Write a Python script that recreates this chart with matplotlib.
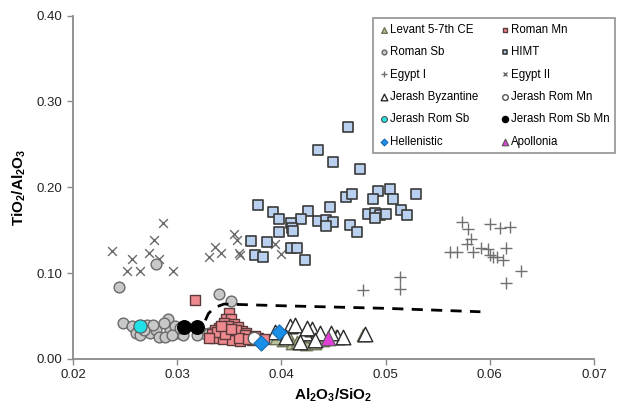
import matplotlib
matplotlib.use("Agg")
import matplotlib.pyplot as plt

plt.rcParams['font.family'] = ['Liberation Sans', 'DejaVu Sans']
plt.rcParams['mathtext.fontset'] = 'custom'
plt.rcParams['mathtext.rm'] = 'Liberation Sans'
plt.rcParams['mathtext.bf'] = 'Liberation Sans:bold'

# Al2O3/SiO2 (x) and TiO2/Al2O3 (y) per group
himt_x = [0.0464, 0.0435, 0.0450, 0.0475, 0.0462, 0.0468, 0.0493, 0.0504, 0.0529, 0.0488,
          0.0507, 0.0378, 0.0447, 0.0392, 0.0426, 0.0515, 0.0398, 0.0419, 0.0435, 0.0443,
          0.0450, 0.0443, 0.0483, 0.0490, 0.0495, 0.0500, 0.0490, 0.0521, 0.0409, 0.0410,
          0.0411, 0.0466, 0.0473, 0.0398, 0.0371, 0.0386, 0.0409, 0.0415, 0.0375, 0.0382,
          0.0423]
himt_y = [0.270, 0.243, 0.229, 0.221, 0.189, 0.192, 0.196, 0.198, 0.192, 0.186,
          0.186, 0.179, 0.177, 0.171, 0.172, 0.173, 0.163, 0.163, 0.161, 0.162,
          0.159, 0.155, 0.169, 0.170, 0.168, 0.169, 0.164, 0.168, 0.158, 0.153,
          0.149, 0.156, 0.148, 0.148, 0.137, 0.136, 0.129, 0.129, 0.121, 0.119,
          0.115]

egypt2_x = [0.0237, 0.0257, 0.0252, 0.0264, 0.0273, 0.0278, 0.0286, 0.0283, 0.0296, 0.0331,
            0.0336, 0.0342, 0.0355, 0.0357, 0.0359, 0.0360, 0.0394, 0.0400]
egypt2_y = [0.126, 0.117, 0.102, 0.102, 0.123, 0.139, 0.158, 0.116, 0.102, 0.119,
            0.131, 0.123, 0.146, 0.139, 0.123, 0.121, 0.134, 0.122]

egypt1_x = [0.0573, 0.0579, 0.0600, 0.0610, 0.0619, 0.0582, 0.0578, 0.0562, 0.0569, 0.0584,
            0.0592, 0.0598, 0.0616, 0.0600, 0.0603, 0.0607, 0.0613, 0.0630, 0.0616, 0.0514,
            0.0514, 0.0478]
egypt1_y = [0.159, 0.151, 0.157, 0.152, 0.154, 0.140, 0.134, 0.125, 0.125, 0.125,
            0.129, 0.128, 0.129, 0.121, 0.119, 0.119, 0.115, 0.103, 0.089, 0.095,
            0.081, 0.080]

roman_sb_x = [0.0244, 0.0280, 0.0340, 0.0352, 0.0248, 0.0257, 0.0260, 0.0271, 0.0274, 0.0280,
              0.0283, 0.0291, 0.0293, 0.0300, 0.0298, 0.0306, 0.0277, 0.0264, 0.0288, 0.0287,
              0.0325, 0.0319, 0.0331, 0.0268, 0.0295, 0.0303]
roman_sb_y = [0.084, 0.111, 0.076, 0.067, 0.042, 0.038, 0.030, 0.040, 0.030, 0.034,
              0.026, 0.047, 0.034, 0.030, 0.038, 0.028, 0.040, 0.028, 0.026, 0.042,
              0.030, 0.028, 0.030, 0.034, 0.028, 0.036]

levant_x = [0.0402, 0.0410, 0.0415, 0.0420, 0.0424, 0.0432, 0.0440, 0.0446, 0.0452, 0.0478,
            0.0395, 0.0405, 0.0428, 0.0437]
levant_y = [0.022, 0.019, 0.020, 0.024, 0.018, 0.019, 0.022, 0.024, 0.027, 0.028,
            0.025, 0.030, 0.027, 0.025]

jerash_byz_x = [0.0394, 0.0408, 0.0413, 0.0423, 0.0429, 0.0437, 0.0453, 0.0459, 0.0480, 0.0418,
                0.0432, 0.0448, 0.0425, 0.0404]
jerash_byz_y = [0.032, 0.038, 0.040, 0.030, 0.035, 0.030, 0.026, 0.026, 0.029, 0.020,
                0.022, 0.030, 0.036, 0.026]

roman_mn_x = [0.0317, 0.0350, 0.0347, 0.0352, 0.0345, 0.0355, 0.0349, 0.0358, 0.0340, 0.0362,
              0.0336, 0.0343, 0.0352, 0.0366, 0.0333, 0.0340, 0.0348, 0.0356, 0.0362, 0.0370,
              0.0335, 0.0344, 0.0353, 0.0360, 0.0372, 0.0378, 0.0383, 0.0338, 0.0356, 0.0365,
              0.0375, 0.0331, 0.0346, 0.0359, 0.0368, 0.0352, 0.0342]
roman_mn_y = [0.069, 0.053, 0.047, 0.046, 0.042, 0.041, 0.038, 0.037, 0.036, 0.033,
              0.034, 0.032, 0.031, 0.030, 0.029, 0.027, 0.026, 0.027, 0.025, 0.026,
              0.024, 0.023, 0.022, 0.021, 0.022, 0.024, 0.023, 0.031, 0.034, 0.028,
              0.027, 0.025, 0.029, 0.024, 0.023, 0.035, 0.039]

jerash_rom_mn_x = [0.0374]
jerash_rom_mn_y = [0.025]
jerash_rom_sb_x = [0.0264]
jerash_rom_sb_y = [0.038]
jerash_sbmn_x = [0.0307, 0.0319]
jerash_sbmn_y = [0.037, 0.037]
hellenistic_x = [0.0380, 0.0398]
hellenistic_y = [0.019, 0.032]
apollonia_x = [0.0445]
apollonia_y = [0.025]

# dashed curve
curve_x = [0.0327, 0.0330, 0.0336, 0.0345, 0.0400, 0.0500, 0.0591]
curve_y = [0.045, 0.053, 0.060, 0.064, 0.062, 0.059, 0.055]

fig = plt.figure(figsize=(6.17, 4.08), dpi=100)
ax = fig.add_axes([0.1183, 0.1201, 0.8444, 0.8419])

h = {}
h['Egypt II'] = ax.scatter(egypt2_x, egypt2_y, marker='x', s=40, c='#6a6a6a', linewidths=1.0, zorder=2)
h['Egypt I'] = ax.scatter(egypt1_x, egypt1_y, marker='+', s=70, c='#707070', linewidths=1.0, zorder=2)
h['HIMT'] = ax.scatter(himt_x, himt_y, marker='s', s=45, c='#b9d0ee', edgecolors='#3a3a3a', linewidths=1.2, zorder=3)
h['Roman Sb'] = ax.scatter(roman_sb_x, roman_sb_y, marker='o', s=60, c='#c8c8c8', edgecolors='#6a6a6a', linewidths=1.0, zorder=3)
h['Levant 5-7th CE'] = ax.scatter(levant_x, levant_y, marker='^', s=80, c='#b7c29a', edgecolors='#6f7558', linewidths=1.0, zorder=3)
h['Jerash Byzantine'] = ax.scatter(jerash_byz_x, jerash_byz_y, marker='^', s=110, c='white', edgecolors='#2a2a2a', linewidths=1.0, zorder=4)
h['Roman Mn'] = ax.scatter(roman_mn_x, roman_mn_y, marker='s', s=55, c='#ee8a8f', edgecolors='#5a3a3a', linewidths=1.0, zorder=4)
h['Jerash Rom Mn'] = ax.scatter(jerash_rom_mn_x, jerash_rom_mn_y, marker='o', s=80, c='white', edgecolors='#555555', linewidths=1.0, zorder=5)
h['Jerash Rom Sb'] = ax.scatter(jerash_rom_sb_x, jerash_rom_sb_y, marker='o', s=90, c='#22e0e8', edgecolors='#555555', linewidths=0.8, zorder=5)
h['Jerash Rom Sb Mn'] = ax.scatter(jerash_sbmn_x, jerash_sbmn_y, marker='o', s=95, c='black', edgecolors='black', zorder=5)
h['Hellenistic'] = ax.scatter(hellenistic_x, hellenistic_y, marker='D', s=60, c='#1a8fe8', edgecolors='#1a6ab0', linewidths=0.8, zorder=6)
h['Apollonia'] = ax.scatter(apollonia_x, apollonia_y, marker='^', s=110, c='#e040d8', edgecolors='#555555', linewidths=0.8, zorder=6)

ax.plot(curve_x, curve_y, color='black', linestyle=(0, (4, 3)), linewidth=2.0, zorder=7)

ax.set_xlim(0.02, 0.07)
ax.set_ylim(0, 0.40)
ax.set_xticks([0.02, 0.03, 0.04, 0.05, 0.06, 0.07])
ax.set_yticks([0.0, 0.1, 0.2, 0.3, 0.4])
ax.set_xticklabels(['0.02', '0.03', '0.04', '0.05', '0.06', '0.07'])
ax.set_yticklabels(['0.00', '0.10', '0.20', '0.30', '0.40'])
for s in ['top', 'right']:
    ax.spines[s].set_visible(False)
for s in ['left', 'bottom']:
    ax.spines[s].set_color('#8a8a8a')
    ax.spines[s].set_linewidth(1.3)
ax.tick_params(direction='out', length=4, width=1, color='#8a8a8a', labelsize=9.5, labelcolor='#222222')

ax.set_xlabel(r'$\mathbf{Al_2O_3/SiO_2}$', fontsize=11, labelpad=4)
ax.set_ylabel(r'$\mathbf{TiO_2/Al_2O_3}$', fontsize=11, labelpad=6)

order = ['Levant 5-7th CE', 'Roman Sb', 'Egypt I', 'Jerash Byzantine', 'Jerash Rom Sb', 'Hellenistic',
         'Roman Mn', 'HIMT', 'Egypt II', 'Jerash Rom Mn', 'Jerash Rom Sb Mn', 'Apollonia']
leg = fig.legend([h[k] for k in order], order, ncol=2, loc='upper left',
                 bbox_to_anchor=(373 / 617, 1 - 18 / 408), borderaxespad=0,
                 fontsize=8.3, markerscale=0.45, handletextpad=0.05, handlelength=0.9,
                 columnspacing=1.9, labelspacing=0.9, frameon=True, fancybox=False,
                 borderpad=0.5)
leg.get_frame().set_edgecolor('#777777')
leg.get_frame().set_linewidth(1.2)

fig.savefig('out.png', dpi=100)
